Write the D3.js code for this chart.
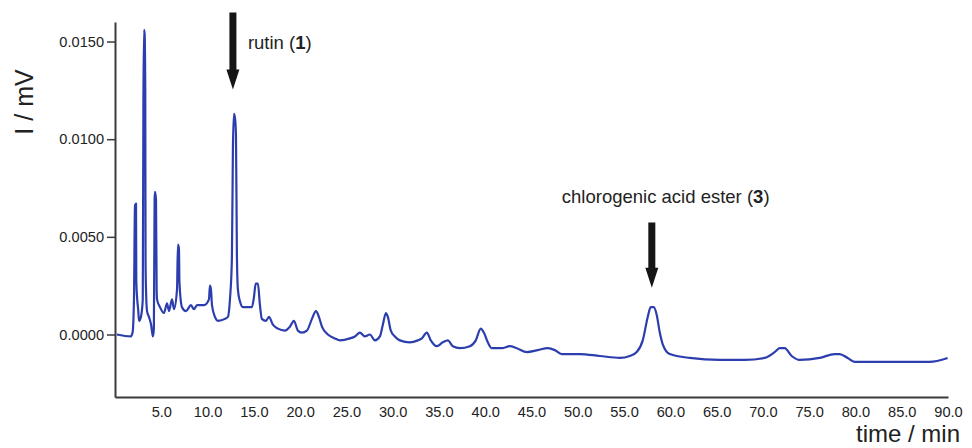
<!DOCTYPE html>
<html>
<head>
<meta charset="utf-8">
<script src="https://cdn.jsdelivr.net/npm/d3@7"></script>
<style>
  html, body { margin: 0; padding: 0; background: #fff; }
  svg { display: block; font-family: "Liberation Sans", Arial, sans-serif; }
</style>
</head>
<body>
<svg id="chart" width="972" height="448"></svg>
<script>
"use strict";
// retention time (min) and detector signal (mV)
var times = [0.2, 1.7, 1.9, 2.05, 2.16, 2.27, 2.3, 2.4, 2.5, 2.6, 2.8, 3.0, 3.07, 3.13, 3.2, 3.27, 3.3, 3.35, 3.46, 3.67,
    3.9, 4.1, 4.2, 4.28, 4.32, 4.43, 4.5, 4.54, 4.86, 5.29, 5.62, 5.83, 6.16, 6.37, 6.7, 6.8, 6.91, 6.96, 7.24, 7.67,
    8.21, 8.53, 8.86, 9.18, 9.61, 10.15, 10.26, 10.37, 10.48, 10.8, 11.12, 11.88, 12.2, 12.42, 12.63, 12.74, 12.85, 12.96, 13.07, 13.17,
    13.28, 13.5, 13.82, 14.58, 14.79, 15.01, 15.2, 15.44, 15.66, 15.87, 16.31, 16.63, 17.06, 17.6, 18.36, 18.9, 19.33, 19.76, 20.19, 20.73,
    21.28, 21.71, 22.03, 22.36, 23.0, 23.76, 24.3, 25.38, 25.92, 26.46, 27.0, 27.54, 28.08, 28.62, 28.94, 29.27, 29.48, 29.8, 30.24, 30.78,
    31.86, 32.72, 33.15, 33.69, 34.12, 34.77, 35.42, 35.96, 36.5, 37.26, 38.34, 38.98, 39.52, 39.85, 40.28, 40.71, 41.79, 42.66, 43.41, 44.49,
    45.68, 46.76, 47.52, 48.27, 50.22, 52.38, 54.54, 55.62, 56.37, 57.02, 57.56, 57.88, 58.21, 58.53, 58.86, 59.18, 59.94, 62.1, 65.33, 68.03,
    70.19, 71.27, 71.81, 72.35, 73.11, 73.97, 76.13, 77.75, 78.29, 79.16, 79.91, 88.01, 89.96];
var signal = [0, -0.0001, 0.0001, 0.0018, 0.0066, 0.0067, 0.0028, 0.0018, 0.0013, 0.0007, 0.0009, 0.0018, 0.012, 0.0156, 0.0154, 0.0126, 0.0038, 0.0023, 0.0012, 0.0009,
    0.0005, -0.0001, 0.0003, 0.0069, 0.0073, 0.0069, 0.0023, 0.0018, 0.0014, 0.0011, 0.0016, 0.0012, 0.0018, 0.0013, 0.0023, 0.0046, 0.0044, 0.0027, 0.0014, 0.0012,
    0.0015, 0.0013, 0.0015, 0.0015, 0.0015, 0.0018, 0.0025, 0.0023, 0.0015, 0.0009, 0.0007, 0.0008, 0.0009, 0.0018, 0.0039, 0.0095, 0.0113, 0.0111, 0.0102, 0.0041,
    0.0023, 0.0017, 0.0014, 0.0014, 0.0014, 0.0019, 0.0026, 0.0026, 0.0015, 0.0008, 0.0007, 0.0009, 0.0005, 0.0003, 0.0002, 0.0004, 0.0007, 0.0002, 0.0001, 0.0002,
    0.0008, 0.0012, 0.0009, 0.0004, 0, -0.0002, -0.0003, -0.0002, -0.0001, 0.0001, -0.0001, 0, -0.0003, -0.0001, 0.0005, 0.0011, 0.0009, 0.0002, -0.0001, -0.0003,
    -0.0004, -0.0003, -0.0002, 0.0001, -0.0003, -0.0006, -0.0004, -0.0003, -0.0006, -0.0007, -0.0006, -0.0003, 0.0003, 0.0001, -0.0004, -0.0007, -0.0007, -0.0006, -0.0007, -0.0009,
    -0.0008, -0.0007, -0.0008, -0.001, -0.001, -0.0011, -0.0012, -0.0011, -0.0009, -0.0003, 0.0009, 0.0014, 0.0014, 0.001, 0.0001, -0.0005, -0.001, -0.0012, -0.0013, -0.0013,
    -0.0012, -0.0009, -0.0007, -0.0007, -0.0011, -0.0013, -0.0012, -0.001, -0.001, -0.0012, -0.0014, -0.0014, -0.0012];

var xTicks = [5, 10, 15, 20, 25, 30, 35, 40, 45, 50, 55, 60, 65, 70, 75, 80, 85, 90];
var yTicks = [0, 0.005, 0.01, 0.015];

// peak annotations: arrow position (min), arrow tip / tail (mV)
var peakLabels = ["rutin", "chlorogenic acid ester"];
var peakNumbers = ["1", "3"];
var peakTimes = [12.74, 58.0];
var arrowTips = [0.01254, 0.0024];
var arrowTails = [0.01649, 0.00573];

var svg = d3.select("#chart");

var x = d3.scaleLinear().domain([0, 90]).range([115, 948]);
var y = d3.scaleLinear().domain([-0.0032, 0.016]).range([397, 22]);

var axisColor = "#3a3a3a";

var xAxis = svg.append("g")
    .attr("transform", "translate(0," + y.range()[0] + ")")
    .call(d3.axisBottom(x).tickValues(xTicks).tickFormat(d3.format(".1f"))
        .tickSizeInner(0).tickSizeOuter(0).tickPadding(10));

var yAxis = svg.append("g")
    .attr("transform", "translate(" + x.range()[0] + ",0)")
    .call(d3.axisLeft(y).tickValues(yTicks).tickFormat(d3.format(".4f"))
        .tickSizeInner(8).tickSizeOuter(0).tickPadding(3));

[xAxis, yAxis].forEach(function (g) {
    g.select(".domain").attr("stroke", axisColor).attr("stroke-width", 2);
    g.selectAll(".tick line").attr("stroke", axisColor).attr("stroke-width", 1.5);
    g.selectAll(".tick text")
        .attr("fill", "#222")
        .style("font-size", "14.6px")
        .style("font-family", "'Liberation Sans', Arial, sans-serif");
});

// axis titles
svg.append("text")
    .attr("transform", "translate(33,102) rotate(-90)")
    .attr("text-anchor", "middle")
    .attr("fill", "#222")
    .style("font-size", "25px")
    .text("I / mV");

svg.append("text")
    .attr("x", 856)
    .attr("y", 442)
    .attr("fill", "#222")
    .style("font-size", "24px")
    .text("time / min");

// the trace
var points = times.map(function (t, i) { return [t, signal[i]]; });
var line = d3.line()
    .curve(d3.curveMonotoneX)
    .x(function (d) { return x(d[0]); })
    .y(function (d) { return y(d[1]); });

svg.append("path")
    .datum(points)
    .attr("fill", "none")
    .attr("stroke", "#2c3ead")
    .attr("stroke-width", 2.2)
    .attr("stroke-linejoin", "round")
    .attr("d", line);

// arrows + labels
var arrows = svg.append("g").selectAll("g")
    .data(peakTimes.map(function (t, i) {
        return { t: t, tip: arrowTips[i], tail: arrowTails[i], label: peakLabels[i], num: peakNumbers[i] };
    }))
    .enter().append("g");

arrows.append("path")
    .attr("fill", "#151515")
    .attr("d", function (d) {
        var cx = x(d.t), yt = y(d.tip), y0 = y(d.tail), hb = yt - 20;
        return "M" + (cx - 3.5) + "," + y0 + "L" + (cx + 3.5) + "," + y0 +
            "L" + (cx + 3.5) + "," + hb + "L" + (cx + 6.5) + "," + hb +
            "L" + cx + "," + yt + "L" + (cx - 6.5) + "," + hb +
            "L" + (cx - 3.5) + "," + hb + "Z";
    });

var labels = arrows.append("text")
    .attr("fill", "#222")
    .style("font-size", "18.5px")
    .attr("x", function (d, i) { return i === 0 ? x(d.t) + 15 : x(d.t) - 90; })
    .attr("y", function (d, i) { return i === 0 ? y(d.tail) + 37 : y(d.tail) - 20; });

labels.append("tspan").text(function (d) { return d.label + " ("; });
labels.append("tspan").style("font-weight", "bold").text(function (d) { return d.num; });
labels.append("tspan").text(")");
</script>
</body>
</html>
